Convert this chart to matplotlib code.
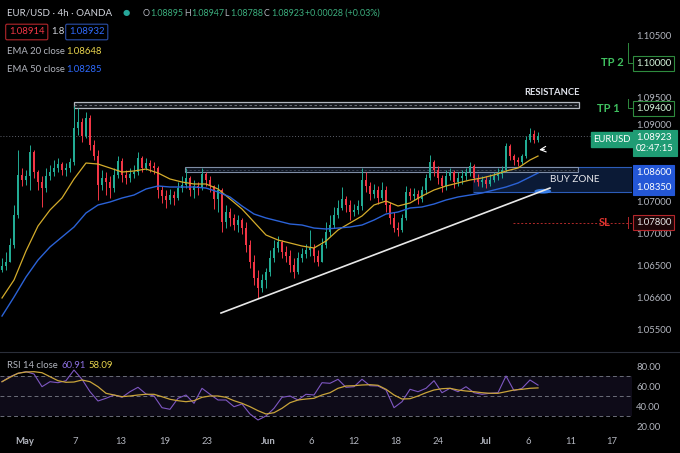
import numpy as np
import matplotlib
matplotlib.use('Agg')
import matplotlib.pyplot as plt
from matplotlib.patches import Rectangle, Ellipse
from matplotlib.lines import Line2D
from matplotlib.transforms import blended_transform_factory

W, H = 680, 453
BG = '#000000'
UP = '#22ab94'
DOWN = '#f23645'
TXT = '#b2b5be'
EMA20_C = '#d4ac2b'
EMA50_C = '#2b62d6'
RSI_C = '#7e57c2'
RSI_MA_C = '#c9a43a'
PIP = 0.0001
FS = 6.8

# ---- data (4h candles) ----
first_open = 1.06828
closes = [
    1.06891, 1.06953, 1.07219, 1.07688, 1.08313, 1.08234, 1.08297, 1.08672, 1.08359, 1.08203,
    1.08109, 1.08297, 1.08359, 1.08422, 1.08484, 1.08391, 1.08422, 1.08516, 1.09047, 1.09141,
    1.08922, 1.09203, 1.08781, 1.08609, 1.08156, 1.08266, 1.08203, 1.08109, 1.08313, 1.08531,
    1.08313, 1.08266, 1.08328, 1.08359, 1.08578, 1.08422, 1.08500, 1.08453, 1.08422, 1.08078,
    1.07984, 1.07922, 1.08000, 1.07953, 1.08109, 1.08156, 1.08266, 1.08078, 1.08141, 1.08109,
    1.08328, 1.08234, 1.08141, 1.07938, 1.08078, 1.07578, 1.07734, 1.07641, 1.07531, 1.07609,
    1.07484, 1.07219, 1.06953, 1.06703, 1.06547, 1.06672, 1.06797, 1.07016, 1.07172, 1.07266,
    1.07109, 1.07047, 1.06906, 1.06797, 1.07016, 1.07078, 1.07141, 1.07172, 1.07047, 1.06953,
    1.07219, 1.07422, 1.07531, 1.07688, 1.07797, 1.07938, 1.07844, 1.07734, 1.07766, 1.07828,
    1.08234, 1.08141, 1.08016, 1.08078, 1.07953, 1.08078, 1.07844, 1.07641, 1.07484, 1.07453,
    1.07641, 1.08047, 1.07984, 1.08016, 1.07938, 1.08078, 1.08266, 1.08516, 1.08391, 1.08266,
    1.08141, 1.08297, 1.08359, 1.08203, 1.08266, 1.08297, 1.08359, 1.08453, 1.08266, 1.08203,
    1.08234, 1.08172, 1.08234, 1.08297, 1.08328, 1.08391, 1.08766, 1.08609, 1.08547, 1.08516,
    1.08609, 1.08859, 1.08953, 1.08859, 1.08922]
# wick lengths beyond the body, in pips
wick_up = [
    12, 16, 11, 16, 39, 11, 9, 11, 3, 3,
    9, 12, 11, 12, 9, 3, 8, 6, 34, 22,
    6, 9, 5, 8, 9, 12, 9, 9, 11, 8,
    5, 8, 9, 11, 9, 3, 8, 5, 6, 3,
    6, 9, 9, 6, 9, 14, 16, 3, 9, 6,
    9, 3, 6, 2, 9, 3, 11, 6, 6, 8,
    3, 9, 8, 11, 12, 9, 6, 12, 12, 9,
    3, 9, 9, 11, 9, 9, 9, 28, 6, 9,
    11, 16, 16, 12, 12, 19, 5, 8, 9, 9,
    19, 12, 6, 9, 6, 12, 6, 5, 9, 9,
    6, 9, 6, 9, 6, 6, 6, 11, 3, 6,
    5, 9, 6, 3, 9, 9, 6, 6, 3, 6,
    6, 6, 9, 6, 9, 6, 5, 3, 3, 5,
    3, 6, 9, 6, 6]
wick_dn = [
    3, 6, 0, 5, 5, 9, 8, 22, 9, 12,
    30, 6, 6, 6, 6, 8, 9, 6, 5, 11,
    9, 3, 8, 6, 23, 8, 20, 16, 6, 5,
    11, 9, 6, 6, 5, 6, 3, 9, 9, 12,
    11, 12, 6, 11, 3, 6, 5, 9, 12, 11,
    3, 9, 9, 16, 20, 16, 9, 12, 8, 11,
    9, 11, 9, 11, 16, 6, 12, 6, 6, 6,
    9, 9, 11, 9, 3, 6, 6, 9, 9, 6,
    0, 5, 6, 5, 5, 3, 11, 12, 6, 6,
    6, 9, 9, 6, 9, 3, 11, 9, 6, 9,
    3, 3, 6, 6, 8, 5, 6, 3, 9, 9,
    9, 6, 6, 9, 6, 9, 6, 6, 6, 6,
    8, 6, 3, 3, 6, 6, 3, 6, 8, 6,
    3, 3, 3, 5, 3]

ema_bars = list(range(0, 133, 3)) + [134]
ema20 = [
    1.06391, 1.06672, 1.07125, 1.07516, 1.07766, 1.07953, 1.08250, 1.08500, 1.08484, 1.08422,
    1.08359, 1.08375, 1.08406, 1.08344, 1.08250, 1.08203, 1.08172, 1.08172, 1.08094, 1.07938,
    1.07781, 1.07578, 1.07375, 1.07297, 1.07250, 1.07203, 1.07172, 1.07281, 1.07453, 1.07563,
    1.07672, 1.07844, 1.07906, 1.07828, 1.07875, 1.07984, 1.08078, 1.08141, 1.08188, 1.08234,
    1.08266, 1.08313, 1.08375, 1.08422, 1.08547, 1.08609]
ema50 = [
    1.06109, 1.06406, 1.06719, 1.06984, 1.07188, 1.07344, 1.07500, 1.07719, 1.07844, 1.07891,
    1.07953, 1.08000, 1.08094, 1.08141, 1.08125, 1.08125, 1.08125, 1.08109, 1.08047, 1.07969,
    1.07828, 1.07703, 1.07641, 1.07594, 1.07547, 1.07531, 1.07484, 1.07469, 1.07484, 1.07500,
    1.07531, 1.07609, 1.07703, 1.07734, 1.07797, 1.07813, 1.07859, 1.07922, 1.07969, 1.08000,
    1.08031, 1.08078, 1.08125, 1.08188, 1.08281, 1.08344]

rsi_bars = list(range(0, 135, 2))
rsi = [
    64.3, 69.3, 72.7, 74.3, 72.0, 59.3, 64.3, 63.3, 65.3, 76.0,
    66.7, 54.3, 45.0, 47.7, 51.0, 48.7, 54.3, 58.7, 52.0, 50.0,
    38.3, 36.7, 47.7, 51.0, 42.7, 57.7, 51.7, 46.0, 46.0, 39.3,
    42.0, 32.0, 26.0, 30.0, 37.7, 48.7, 50.0, 46.0, 51.7, 51.0,
    63.3, 62.7, 66.7, 58.7, 59.3, 66.7, 60.3, 60.0, 56.0, 38.3,
    44.3, 56.7, 54.3, 57.7, 65.3, 53.3, 57.7, 54.3, 59.3, 53.3,
    51.7, 52.7, 53.3, 70.0, 55.3, 57.7, 66.0, 60.9]
rsi_ma = [
    64.3, 68.7, 72.7, 74.0, 74.3, 73.3, 69.3, 65.3, 63.7, 64.0,
    66.0, 64.3, 59.3, 52.7, 51.0, 49.3, 50.0, 51.0, 51.7, 51.7,
    49.3, 46.7, 45.3, 44.3, 45.3, 48.7, 50.0, 50.0, 48.7, 45.3,
    42.7, 39.3, 35.3, 32.0, 33.3, 37.7, 43.3, 46.0, 47.0, 47.7,
    51.0, 53.3, 57.7, 60.0, 60.3, 61.0, 61.3, 60.7, 56.7, 51.0,
    47.0, 47.3, 50.0, 53.3, 56.0, 57.3, 57.7, 56.0, 55.0, 54.3,
    53.3, 52.7, 52.7, 54.3, 56.0, 56.7, 57.7, 58.1]

date_bars = [5.75, 18.25, 29.75, 40.75, 51.25, 66.5, 77.25, 88, 98.5, 109, 121, 131.5, 142.25, 152.5]
date_labels = ['May', '7', '13', '19', '23', 'Jun', '6', '12', '18', '24', 'Jul', '6', '11', '17']

# scale labels as printed on the reference (the ones under the tag boxes are left out)
price_ticks = [1.10500, 1.09516, 1.09094, 1.07906, 1.07406, 1.06906, 1.06406, 1.05906]
price_labels = ['1.10500', '1.09500', '1.09000', '1.07000', '1.07000',
                '1.06500', '1.06600', '1.05500']

# drawn levels
resistance = (1.09367, 1.09461)
zone_top, zone_mid, zone_bot = 1.08438, 1.08359, 1.08047
trend_bars = [54.75, 137]
trend_prices = [1.06156, 1.08109]
sl_level = 1.07570

# ---- figure ----
plt.rcParams['font.family'] = ['Lato', 'DejaVu Sans']
fig = plt.figure(figsize=(W / 100, H / 100), dpi=100, facecolor=BG)

def fx(x):
    return x / W

def fy(y):
    return 1 - y / H

ax = fig.add_axes([0, fy(352), 632 / W, 352 / H], facecolor=BG)
axr = fig.add_axes([0, fy(432), 632 / W, 80 / H], facecolor=BG, sharex=ax)

for a in (ax, axr):
    for s in a.spines.values():
        s.set_visible(False)
    a.yaxis.tick_right()
    a.tick_params(axis='y', length=0, pad=3, labelsize=FS, labelcolor=TXT)

ax.set_xlim(-0.5, 157.5)
ax.set_ylim(1.05547, 1.11047)
ax.tick_params(axis='x', bottom=False, labelbottom=False)
ax.set_yticks(price_ticks)
ax.set_yticklabels(price_labels)

# candles
closes_a = np.array(closes)
opens_a = np.r_[first_open, closes_a[:-1]]
bars = np.arange(len(closes_a))
body_lo = np.minimum(opens_a, closes_a)
body_hi = np.maximum(opens_a, closes_a)
highs = body_hi + np.array(wick_up) * PIP
lows = body_lo - np.array(wick_dn) * PIP
cols = [UP if c >= o else DOWN for o, c in zip(opens_a, closes_a)]
ax.vlines(bars, lows, highs, colors=cols, lw=0.7, zorder=4)
ax.bar(bars, np.maximum(body_hi - body_lo, 0.00005), bottom=body_lo, width=0.66,
       color=cols, lw=0, zorder=4)

# EMAs
ax.plot(ema_bars, ema20, color=EMA20_C, lw=0.9, zorder=5)
ax.plot(ema_bars, ema50, color=EMA50_C, lw=1.0, zorder=5)

# last price line
ax.axhline(closes[-1], color='#5d606b', lw=0.7, ls=(0, (1, 2)), zorder=2)

# resistance box
ax.add_patch(Rectangle((18, resistance[0]), 126.25, resistance[1] - resistance[0],
                       fc='#15171c', ec='#b4b8c0', lw=0.9, zorder=3))
ax.hlines(np.mean(resistance), 18, 144.25, colors='#7a7e88', lw=0.6, ls=(0, (3, 3)), zorder=3)
ax.text(137.5, 1.09594, 'RESISTANCE', color='#e0e3eb', fontsize=FS, fontweight='bold',
        ha='center', va='center', zorder=6)

# buy zone
ax.add_patch(Rectangle((117.75, zone_bot), 39.75, zone_top - zone_bot,
                       fc='#0b1a36', ec='none', zorder=1))
ax.hlines([zone_top, zone_bot], 117.75, 157.5, colors='#2c5cb8', lw=0.8, zorder=2)
ax.add_patch(Rectangle((45.75, zone_mid), 98.25, zone_top - zone_mid,
                       fc='#0d1420', ec='#8c9bb5', lw=0.8, zorder=3, alpha=0.9))
ax.hlines((zone_top + zone_mid) / 2, 45.75, 144, colors='#4a5466', lw=0.5, ls=(0, (3, 3)), zorder=3)
ax.text(143.25, 1.08250, 'BUY ZONE', color='#e8e8ec', fontsize=FS + 0.3, ha='center',
        va='center', zorder=6)

# trend line + glow
ax.plot(trend_bars, trend_prices, color='#e8e8e8', lw=1.2, zorder=6)
ax.add_patch(Ellipse((135.2, zone_bot + 0.00012), 4.2, 0.00075, fc='#3d8bff', ec='none',
                     alpha=0.85, zorder=5))

# SL
ax.hlines(sl_level, 127.75, 157.5, colors='#b22a2a', lw=0.7, ls=(0, (2, 2)), zorder=3)

# small arrow near last candle
ax.annotate('', xy=(133.6, 1.08703), xytext=(136.3, 1.08718),
            arrowprops=dict(arrowstyle='->', color='white', lw=0.8), zorder=7)

# labels on the price scale
bt = blended_transform_factory(ax.transAxes, ax.transData)
def scale_box(price, text, fc, ec, tc, x0=636 / 632):
    ax.text(x0, price, text, transform=bt, fontsize=FS, color=tc, ha='left', va='center',
            clip_on=False, zorder=20, linespacing=1.2,
            bbox=dict(boxstyle='square,pad=0.32', fc=fc, ec=ec, lw=0.8))

scale_box(1.10055, '1.10000', '#000000', '#2e8b3e', '#d6f5dc')
scale_box(1.09359, '1.09400', '#000000', '#2e8b3e', '#d6f5dc')
scale_box(1.08813, '1.08923\n02:47:15', '#1f9c74', '#1f9c74', 'white')
scale_box(1.08359, '1.08600', '#2457d6', '#2457d6', 'white')
scale_box(1.08125, '1.08350', '#2457d6', '#2457d6', 'white')
scale_box(sl_level, '1.07800', '#1c0506', '#b3262b', '#e8e8e8')
ax.text(631 / 632, 1.08867, 'EURUSD', transform=bt, fontsize=FS, color='white', ha='right',
        va='center', clip_on=False, zorder=20,
        bbox=dict(boxstyle='square,pad=0.3', fc='#1f9c74', ec='#1f9c74'))

ax.text(612 / 632, 1.10063, 'TP 2', transform=bt, fontsize=8, color='#3fbf5f',
        fontweight='bold', ha='center', va='center', zorder=20)
ax.text(608 / 632, 1.09359, 'TP 1', transform=bt, fontsize=8, color='#3fbf5f',
        fontweight='bold', ha='center', va='center', zorder=20)
ax.text(605 / 632, sl_level, 'SL', transform=bt, fontsize=8, color='#e0342f',
        fontweight='bold', ha='center', va='center', zorder=20)
ax.plot([156.6, 156.6, 157.5], [1.10375, 1.10055, 1.10055], color='#2e8b3e', lw=0.7,
        clip_on=False, zorder=19)
ax.plot([156.6, 156.6, 157.5], [1.09500, 1.09359, 1.09359], color='#2e8b3e', lw=0.7,
        clip_on=False, zorder=19)
ax.plot([156.6, 156.6], [1.07650, 1.07490], color='#b3262b', lw=0.7, clip_on=False, zorder=19)

# ---- RSI pane ----
axr.set_ylim(14, 94)
axr.axhspan(30, 70, fc='#0e0b18', ec='none', zorder=0)
axr.hlines([70, 50, 30], -0.5, 157.5, colors='#6a6d78', lw=0.7, ls=(0, (4, 3)), zorder=1)
axr.plot(rsi_bars, rsi, color=RSI_C, lw=0.8, zorder=3)
axr.plot(rsi_bars, rsi_ma, color=RSI_MA_C, lw=0.9, zorder=4)
axr.set_yticks([20, 40, 60, 80])
axr.set_yticklabels(['20.00', '40.00', '60.00', '80.00'])
axr.set_xticks(date_bars)
axr.set_xticklabels(date_labels)
axr.tick_params(axis='x', length=0, pad=3.5, labelsize=FS, labelcolor=TXT)
for lbl in axr.get_xticklabels():
    if lbl.get_text() in ('May', 'Jun', 'Jul'):
        lbl.set_fontweight('bold')

fig.add_artist(Line2D([0, 1], [fy(352), fy(352)], color='#2a2e39', lw=0.8))

# ---- header ----
fig.text(fx(7), fy(13), 'EUR/USD · 4h · OANDA', color='#d1d4dc', fontsize=7.0, va='center')
fig.text(fx(126), fy(13), '●', color='#26a69a', fontsize=6, va='center', ha='center',
         family='DejaVu Sans')
GRN = '#3cae7e'
for xx, t, c in [(143, 'O', TXT), (150, '1.08895', GRN), (184, 'H', TXT), (191, '1.08947', GRN),
                 (224, 'L', TXT), (230, '1.08788', GRN), (264, 'C', TXT), (271, '1.08923', GRN),
                 (305, '+0.00028 (+0.03%)', GRN)]:
    fig.text(fx(xx), fy(13), t, color=c, fontsize=6.4, va='center')

fig.text(fx(9), fy(32), '1.08914', color='#f23645', fontsize=FS, va='center',
         bbox=dict(boxstyle='round,pad=0.35,rounding_size=0.15', fc='none', ec='#b3262b', lw=0.8))
fig.text(fx(51), fy(32), '1.8', color='#d1d4dc', fontsize=FS, va='center')
fig.text(fx(69), fy(32), '1.08932', color='#2f6bff', fontsize=FS, va='center',
         bbox=dict(boxstyle='round,pad=0.35,rounding_size=0.15', fc='none', ec='#2a4fa8', lw=0.8))
fig.text(fx(7), fy(52), 'EMA 20 close', color=TXT, fontsize=FS, va='center')
fig.text(fx(66), fy(52), '1.08648', color='#e8d44d', fontsize=FS, va='center')
fig.text(fx(7), fy(69), 'EMA 50 close', color=TXT, fontsize=FS, va='center')
fig.text(fx(66), fy(69), '1.08285', color='#2f6bff', fontsize=FS, va='center')

fig.text(fx(7), fy(365), 'RSI 14 close', color=TXT, fontsize=FS, va='center')
fig.text(fx(61), fy(365), '60.91', color='#8b6fe0', fontsize=FS, va='center')
fig.text(fx(88), fy(365), '58.09', color='#e8d44d', fontsize=FS, va='center')

fig.savefig('out.png', dpi=100, facecolor=BG)
